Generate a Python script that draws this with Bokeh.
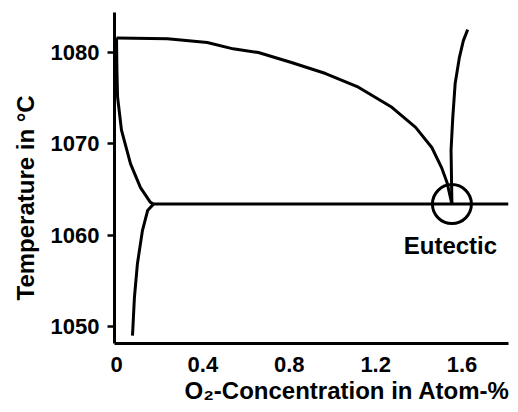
import math
from bokeh.plotting import figure
from bokeh.models import Range1d, Label, FixedTicker, Title
from bokeh.embed import file_html
from bokeh.resources import INLINE

# ---- data ----
# liquidus (upper curve) from pure Cu to the eutectic
liq_x = [0.0, 0.236, 0.42, 0.54, 0.657, 0.81, 0.968, 1.12, 1.275, 1.385, 1.46, 1.505, 1.53, 1.553]
liq_t = [1081.6, 1081.5, 1081.1, 1080.4, 1080.0, 1078.9, 1077.7, 1076.2, 1074.0, 1071.8, 1069.6, 1067.4, 1065.8, 1063.4]

# solidus (left curve) from pure Cu down to the eutectic line
sol_x = [0.0, 0.002, 0.005, 0.023, 0.065, 0.111, 0.157, 0.171]
sol_t = [1081.6, 1078.0, 1075.1, 1071.5, 1067.8, 1065.2, 1063.6, 1063.4]

# solvus (lower left curve) below the eutectic
solv_x = [0.171, 0.144, 0.120, 0.097, 0.083, 0.074]
solv_t = [1063.4, 1062.7, 1060.5, 1056.9, 1053.2, 1049.0]

# right-hand liquidus branch rising from the eutectic
rl_x = [1.553, 1.549, 1.557, 1.568, 1.588, 1.606, 1.626]
rl_t = [1063.4, 1069.3, 1072.9, 1076.6, 1079.5, 1081.3, 1082.5]

# eutectic horizontal
eut_x = [0.171, 1.815]
eut_t = [1063.4, 1063.4]
eut_point_x = [1.553]
eut_point_t = [1063.4]

x_ticks = [0, 0.4, 0.8, 1.2, 1.6]
x_tick_labels = ["0", "0.4", "0.8", "1.2", "1.6"]
y_ticks = [1050, 1060, 1070, 1080]

FONT = "Liberation Sans"

p = figure(width=510, height=404, output_backend="svg", toolbar_location=None,
           x_range=Range1d(-0.0093, 1.815), y_range=Range1d(1048.14, 1084.38),
           min_border_left=114, min_border_right=2, min_border_top=12, min_border_bottom=61)

p.outline_line_color = None
p.grid.grid_line_color = None
p.background_fill_color = "white"
p.border_fill_color = "white"

for ax in (p.xaxis[0], p.yaxis[0]):
    ax.axis_line_width = 3
    ax.axis_line_color = "black"
    ax.minor_tick_line_color = None
    ax.major_label_text_font = FONT
    ax.major_label_text_font_style = "bold"
    ax.major_label_text_font_size = "22px"
    ax.major_label_text_color = "black"

p.xaxis.ticker = FixedTicker(ticks=x_ticks)
p.xaxis.major_label_overrides = {t: l for t, l in zip(x_ticks, x_tick_labels)}
p.xaxis.major_tick_line_color = None
p.xaxis.major_tick_out = 0
p.xaxis.major_tick_in = 0
p.xaxis.major_label_standoff = 13

p.yaxis.ticker = FixedTicker(ticks=y_ticks)
p.yaxis.major_tick_out = 7
p.yaxis.major_tick_in = 0
p.yaxis.major_tick_line_width = 2.5
p.yaxis.major_tick_line_color = "black"
p.yaxis.major_label_standoff = 8

lw = 3
p.line(liq_x, liq_t, line_width=lw, line_color="black")
p.line(sol_x, sol_t, line_width=lw, line_color="black")
p.line(solv_x, solv_t, line_width=lw, line_color="black")
p.line(rl_x, rl_t, line_width=lw, line_color="black")
p.line(eut_x, eut_t, line_width=lw, line_color="black")
p.scatter(eut_point_x, eut_point_t, marker="circle", size=39, fill_color=None,
          line_color="black", line_width=3)

p.add_layout(Label(x=1.546, y=1058.9, text="Eutectic", text_align="center",
                   text_baseline="alphabetic", text_font=FONT, text_font_style="bold",
                   text_font_size="24px", text_color="black"))

# axis titles as side titles (not clipped, offset along the side)
p.add_layout(Title(text="O\u2082-Concentration in Atom-%", align="left", offset=70,
                   standoff=1, text_font=FONT, text_font_style="bold",
                   text_font_size="24px", text_color="black"), "below")
p.add_layout(Title(text="Temperature in \u00b0C", align="left", offset=43,
                   standoff=18, text_font=FONT, text_font_style="bold",
                   text_font_size="24px", text_color="black"), "left")

open("out.html", "w").write(file_html(p, INLINE))
